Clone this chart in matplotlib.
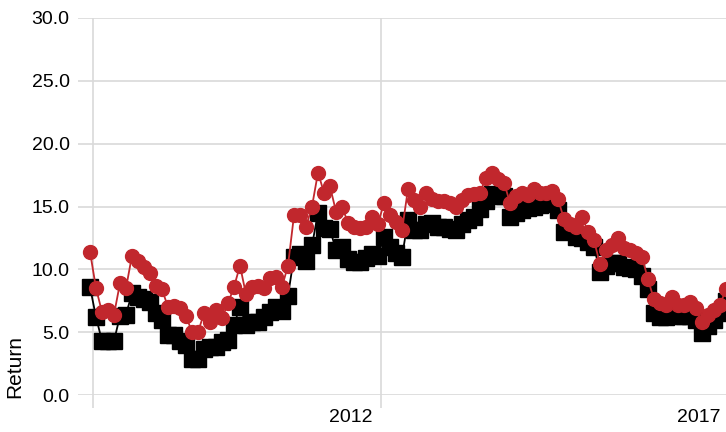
import matplotlib.pyplot as plt
import numpy as np

# values, one per period
black_values = [
    8.6, 6.2, 4.3, 4.3, 4.3, 6.3, 6.4, 8.1, 7.8, 7.6,
    7.4, 6.5, 6.0, 4.8, 4.8, 4.3, 4.0, 2.9, 2.9, 3.7,
    3.8, 3.8, 4.2, 4.4, 5.6, 7.0, 5.6, 5.8, 5.8, 6.2,
    6.6, 7.0, 6.7, 7.9, 11.0, 11.2, 10.7, 11.9, 14.5, 13.3,
    13.2, 11.5, 11.8, 10.8, 10.6, 10.6, 10.9, 11.2, 11.1, 12.6,
    11.8, 11.3, 11.0, 13.9, 13.1, 13.1, 13.6, 13.7, 13.4, 13.4,
    13.2, 13.1, 13.6, 13.9, 14.2, 14.8, 15.4, 16.0, 15.8, 15.8,
    14.2, 14.5, 14.7, 14.9, 15.0, 15.1, 15.2, 15.3, 14.7, 13.0,
    13.3, 12.6, 12.5, 12.2, 11.8, 9.8, 10.3, 10.5, 10.5, 10.2,
    10.1, 10.0, 9.5, 8.4, 6.5, 6.2, 6.2, 6.5, 6.3, 6.3,
    6.3, 6.0, 4.9, 5.5, 6.0, 6.5, 7.5,
]
red_values = [
    11.4, 8.5, 6.6, 6.8, 6.4, 8.9, 8.5, 11.1, 10.7, 10.2,
    9.7, 8.7, 8.4, 7.0, 7.1, 6.9, 6.3, 5.0, 5.0, 6.5,
    5.8, 6.8, 6.1, 7.3, 8.6, 10.3, 8.0, 8.6, 8.7, 8.5,
    9.3, 9.4, 8.6, 10.3, 14.3, 14.3, 13.4, 15.0, 17.7, 16.1,
    16.6, 14.6, 15.0, 13.7, 13.4, 13.3, 13.4, 14.2, 13.6, 15.3,
    14.3, 13.8, 13.1, 16.4, 15.5, 15.0, 16.1, 15.6, 15.4, 15.4,
    15.3, 15.0, 15.5, 15.9, 16.0, 16.1, 17.3, 17.7, 17.2, 16.9,
    15.3, 15.8, 16.1, 15.9, 16.4, 16.1, 16.1, 16.2, 15.6, 14.0,
    13.6, 13.4, 14.2, 13.0, 12.3, 10.4, 11.5, 11.9, 12.5, 11.7,
    11.5, 11.3, 11.0, 9.2, 7.6, 7.3, 7.2, 7.8, 7.2, 7.2,
    7.4, 6.9, 5.8, 6.4, 6.8, 7.2, 8.4,
]
y_ticks = [0, 5, 10, 15, 20, 25, 30]
year_labels = ['2012', '2017']

plt.rcParams['font.family'] = ['Liberation Sans', 'DejaVu Sans']

fig = plt.figure(figsize=(7.26, 4.32), dpi=100)
ax = fig.add_axes([78 / 726, 37 / 432, 648 / 726, 377 / 432])

periods = np.arange(len(red_values))
ax.plot(periods, black_values, color='black', linewidth=1.3,
        marker='s', markersize=11, zorder=3)
ax.plot(periods, red_values, color='#c1272d', linewidth=1.3,
        marker='o', markersize=10, zorder=4)

ax.set_xlim(-2, 106)
ax.set_ylim(0, 30)

ax.set_yticks(y_ticks)
ax.set_yticklabels([f'{v:.1f}' for v in y_ticks])
ax.tick_params(axis='y', length=0, pad=6, labelsize=14)

# year gridlines and their labels sit at different spots in the original
ax.set_xticks([0.5, 48.5])
ax.set_xticklabels(['', ''])
ax.set_xticks([43.5, 101.5], minor=True)
ax.set_xticklabels(year_labels, minor=True)
ax.tick_params(axis='x', which='major', length=9.5, width=1.2, color='#d9d9d9')
ax.tick_params(axis='x', which='minor', length=0, pad=10, labelsize=14)

ax.grid(True, which='major', color='#d9d9d9', linewidth=1.2)
ax.set_axisbelow(True)
for spine in ax.spines.values():
    spine.set_visible(False)

fig.text(15 / 726, 34 / 432, 'Return', rotation=90, ha='center', va='bottom', fontsize=15)

fig.savefig('out.png', dpi=100)
